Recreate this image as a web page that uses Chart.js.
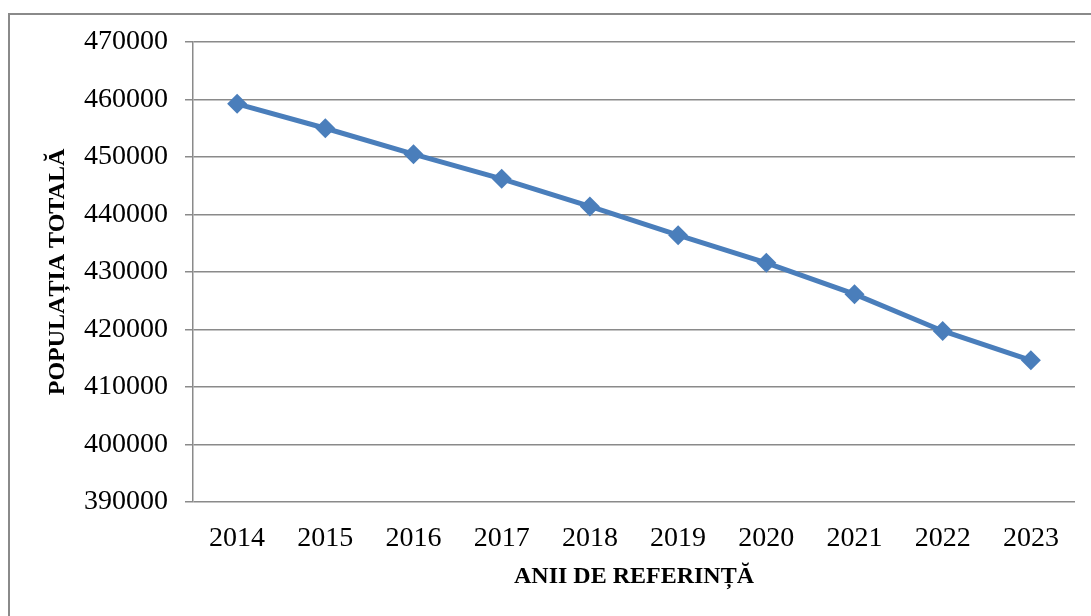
<!DOCTYPE html>
<html>
<head>
<meta charset="utf-8">
<script src="https://cdn.jsdelivr.net/npm/chart.js@4/dist/chart.umd.min.js"></script>
<style>
  html, body { margin: 0; padding: 0; background: #fff; }
  #frame {
    position: absolute; left: 8px; top: 13px; width: 1083px; height: 603px;
    border-top: 2px solid #8a8a8a; border-left: 2px solid #8a8a8a;
  }
  #chart { position: absolute; left: 0; top: 0; }
</style>
</head>
<body>
<div id="frame"></div>
<canvas id="chart" width="1091" height="616"></canvas>
<script>
// anii de referinta si populatia totala
const years = ['2014', '2015', '2016', '2017', '2018', '2019', '2020', '2021', '2022', '2023']
const population = [459250, 455000, 450500, 446200, 441400, 436400, 431600, 426150, 419750, 414650]
const yMin = 390000
const yMax = 470000
const yStep = 10000

const gridColor = '#8a8a8a'
const serif = "'Liberation Serif', 'Times New Roman', serif"

const ctx = document.getElementById('chart').getContext('2d')
new Chart(ctx, {
    type: 'line',
    data: {
        labels: years,
        datasets: [{
            label: 'Populația totală',
            data: population,
            borderColor: '#4a7ebb',
            backgroundColor: '#4a7ebb',
            borderWidth: 5,
            pointStyle: 'rectRot',
            pointRadius: 10,
            pointBorderWidth: 0,
            tension: 0,
        }]
    },
    options: {
        responsive: false,
        animation: false,
        devicePixelRatio: 1,
        layout: { padding: { left: 0, top: 42, right: 16, bottom: 0 } },
        plugins: { legend: { display: false }, tooltip: { enabled: false } },
        scales: {
            x: {
                offset: true,
                grid: { display: false, drawTicks: false },
                border: { display: false },
                ticks: { color: '#000', padding: 20, maxRotation: 0, font: { family: serif, size: 28 } },
                title: {
                    display: true, text: 'ANII DE REFERINȚĂ', color: '#000',
                    font: { family: serif, size: 24, weight: 'bold' },
                    padding: { top: 0, bottom: 25 }
                },
                afterFit: s => { s.height = 114 }
            },
            y: {
                min: yMin,
                max: yMax,
                grid: { color: gridColor, lineWidth: 1.5, tickLength: 8, tickColor: gridColor },
                border: { display: true, color: gridColor, width: 1.5 },
                ticks: {
                    stepSize: yStep, color: '#000', padding: 17,
                    font: { family: serif, size: 28 },
                    callback: v => String(v)
                },
                title: {
                    display: true, text: 'POPULAȚIA TOTALĂ', color: '#000',
                    font: { family: serif, size: 24, weight: 'bold' },
                    padding: { top: 43, bottom: 0 }
                },
                afterFit: s => { s.width = 193 }
            }
        }
    }
})
</script>
</body>
</html>
